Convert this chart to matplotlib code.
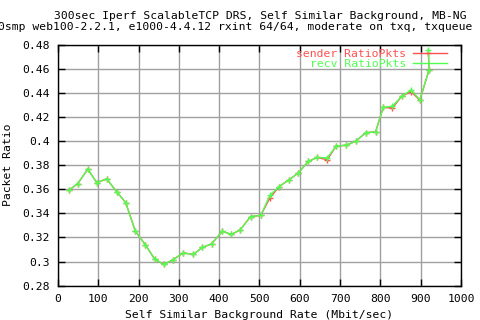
import matplotlib
matplotlib.use('Agg')
import matplotlib.pyplot as plt
from matplotlib.lines import Line2D

# background rate (Mbit/sec) and packet ratios
rate = [28, 49, 74, 96, 121, 146, 168, 192, 217, 240, 263, 286, 311, 336, 358,
        381, 408, 430, 452, 478, 503, 526, 549, 574, 596, 621, 643, 668, 690,
        715, 739, 764, 788, 807, 830, 853, 876, 898, 921, 919]
recv = [0.3593, 0.3648, 0.3767, 0.3656, 0.3686, 0.3578, 0.3490, 0.3252, 0.3139,
        0.3020, 0.2976, 0.3017, 0.3072, 0.3059, 0.3117, 0.3147, 0.3252, 0.3225,
        0.3263, 0.3374, 0.3383, 0.3551, 0.3623, 0.3681, 0.3734, 0.3831, 0.3864,
        0.3861, 0.3958, 0.3966, 0.3999, 0.4071, 0.4076, 0.4279, 0.4290, 0.4373,
        0.4422, 0.4345, 0.4594, 0.4760]
sender = [0.3593, 0.3648, 0.3767, 0.3656, 0.3686, 0.3578, 0.3490, 0.3252, 0.3139,
          0.3020, 0.2976, 0.3017, 0.3072, 0.3059, 0.3117, 0.3147, 0.3252, 0.3225,
          0.3263, 0.3374, 0.3383, 0.3530, 0.3623, 0.3681, 0.3734, 0.3831, 0.3864,
          0.3845, 0.3958, 0.3966, 0.3999, 0.4071, 0.4076, 0.4279, 0.4275, 0.4373,
          0.4410, 0.4340, 0.4594, 0.4730]

red = '#ff5050'
green = '#50ff50'
mono = 'DejaVu Sans Mono'
fs = 8.2

fig = plt.figure(figsize=(4.8, 3.2), dpi=100)
ax = fig.add_axes([0.1208, 0.1072, 0.8396, 0.7531])

ax.plot(rate, sender, color=red, lw=1, marker='+', ms=5, mew=1)
ax.plot(rate, recv, color=green, lw=1, marker='+', ms=5, mew=1)

ax.set_xlim(0, 1000)
ax.set_ylim(0.28, 0.48)
ax.set_xticks(range(0, 1001, 100))
ax.set_yticks([0.28, 0.3, 0.32, 0.34, 0.36, 0.38, 0.4, 0.42, 0.44, 0.46, 0.48])
ax.set_yticklabels(['0.28', '0.3', '0.32', '0.34', '0.36', '0.38', '0.4',
                    '0.42', '0.44', '0.46', '0.48'])
ax.grid(True, color='#a0a0a0', lw=1)
ax.tick_params(direction='in', length=5, width=1, top=True, right=True,
               labelsize=fs, pad=6)
for lab in ax.get_xticklabels() + ax.get_yticklabels():
    lab.set_family(mono)
for sp in ax.spines.values():
    sp.set_linewidth(1)

ax.set_xlabel('Self Similar Background Rate (Mbit/sec)', family=mono,
              fontsize=fs, labelpad=4)
ax.set_ylabel('Packet Ratio', family=mono, fontsize=fs)
ax.yaxis.set_label_coords(-0.112, 0.5)

fig.text(0.542, 0.95, '300sec Iperf ScalableTCP DRS, Self Similar Background, MB-NG',
         ha='center', va='center', family=mono, fontsize=fs)
# second title line is cut off at both edges in the original
fig.text(-0.004, 0.915,
         '0smp web100-2.2.1, e1000-4.4.12 rxint 64/64, moderate on txq, txqueue',
         ha='left', va='center', family=mono, fontsize=fs)

handles = [Line2D([], [], color=red, lw=1), Line2D([], [], color=green, lw=1)]
leg = ax.legend(handles, ['sender RatioPkts', 'recv RatioPkts'],
                loc='upper right', bbox_to_anchor=(447 / 480, 1 - 49 / 320),
                bbox_transform=fig.transFigure, frameon=False,
                prop={'family': mono, 'size': fs}, markerfirst=False,
                handlelength=3.0, handletextpad=0.6, labelspacing=0.0,
                borderpad=0, borderaxespad=0)
for t, c in zip(leg.get_texts(), [red, green]):
    t.set_color(c)

fig.savefig('out.png', dpi=100)
